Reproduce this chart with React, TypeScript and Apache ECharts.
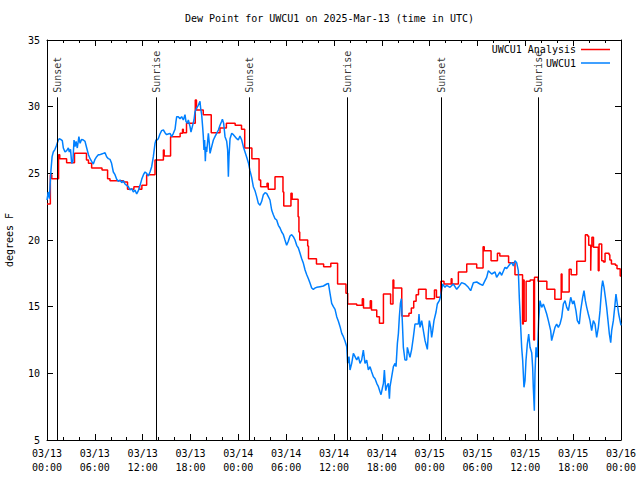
import React, { useEffect, useRef } from 'react';
import * as echarts from 'echarts';

const FONT = 'DejaVu Sans Mono';
const titleText = 'Dew Point for UWCU1 on 2025-Mar-13 (time in UTC)';
const dayLabels = ['03/13', '03/14', '03/15', '03/16'];
const hourLabels = ['00:00', '06:00', '12:00', '18:00'];
const seriesNames = ['UWCU1 Analysis', 'UWCU1'];
const seriesColors = ['#ff0000', '#0080ff'];
const yName = 'degrees F';

const eventNames = ['Sunset', 'Sunrise', 'Sunset', 'Sunrise', 'Sunset', 'Sunrise'];
const eventHours = [1.3, 13.67, 25.38, 37.67, 49.47, 61.63];
const eventLineTop = 30.7;
const eventLabelAt = 31.0;

// hours since 03/13 00:00 UTC
const analysisHours = [
  0.0, 0.42, 0.6, 1.45, 1.6, 2.46, 3.45, 4.95, 5.2, 5.6, 6.9, 7.6, 7.9, 9.6, 10.1, 10.9, 11.6, 11.9, 12.5,
  13.55, 14.6, 14.7, 15.5, 16.7, 17.0, 17.1, 17.5, 18.6, 18.75, 19.6, 20.6, 21.7, 22.5, 23.6, 24.4, 24.8,
  25.7, 26.6, 26.8, 27.6, 27.75, 28.6, 29.6, 29.7, 30.6, 30.75, 31.5, 31.6, 31.7, 32.7, 32.8, 33.8, 34.7,
  35.6, 36.45, 37.5, 37.72, 38.85, 39.55, 39.7, 40.55, 40.7, 41.36, 41.7, 42.2, 43.1, 43.4, 43.5, 44.5,
  45.4, 45.7, 46.0, 46.3, 46.6, 47.55, 48.6, 48.85, 49.4, 49.8, 50.7, 50.8, 51.6, 52.65, 53.9, 54.7, 54.85,
  55.7, 56.5, 56.8, 57.9, 58.7, 59.65, 59.75, 59.85, 60.1, 60.6, 61.05, 61.15, 61.6, 62.7, 63.7, 64.5,
  64.6, 65.5, 65.75, 66.45, 67.53, 67.8, 67.95, 68.2, 68.25, 68.35, 68.55, 69.15, 69.25, 69.58, 69.8,
  70.0, 70.5, 70.6, 70.8, 71.3, 71.5, 71.9, 72.0,
];
const analysisValues = [
  22.7, 24.9, 24.6, 26.4, 26.1, 25.8, 26.5, 26.0, 25.75, 25.4, 25.25, 24.6, 24.45, 24.35, 23.8, 24.0, 23.8, 24.1, 24.9,
  26.0, 26.75, 26.3, 27.75, 28.0, 28.3, 28.05, 28.75, 30.5, 29.75, 29.4, 28.05, 28.4, 28.75, 28.6, 28.3, 26.9,
  26.1, 24.5, 24.0, 24.25, 23.8, 24.75, 23.6, 22.55, 23.5, 23.05, 21.75, 20.6, 20.0, 19.55, 18.6, 18.2, 18.0,
  18.25, 16.7, 16.0, 15.2, 15.1, 15.6, 14.9, 15.45, 14.75, 14.25, 13.75, 15.95, 15.2, 17.0, 16.4, 14.3,
  14.5, 14.9, 15.4, 15.9, 16.3, 15.6, 16.25, 15.7, 16.9, 16.7, 17.1, 16.7, 17.6, 18.2, 17.9, 19.5, 19.2,
  18.45, 19.0, 18.8, 18.3, 17.4, 13.7, 17.0, 13.9, 16.9, 17.0, 12.5, 17.2, 16.9, 16.3, 15.55, 17.45,
  16.1, 17.8, 17.4, 18.4, 20.4, 20.3, 19.6, 17.7, 19.5, 20.2, 19.45, 17.7, 19.7, 18.45, 18.35,
  19.0, 18.9, 18.5, 18.2, 18.1, 17.85, 17.3, 17.3,
];

const obsHours = [
  0.0, 0.15, 0.3, 0.4, 0.5, 0.64, 0.79, 1.0, 1.2, 1.42, 1.55, 1.71, 1.92, 2.05, 2.26, 2.47, 2.68, 2.8, 2.95,
  3.1, 3.25, 3.39, 3.51, 3.65, 3.8, 4.0, 4.15, 4.35, 4.56, 4.77, 4.98, 5.2, 5.4, 5.6, 5.81, 6.02, 6.23, 6.44,
  6.65, 6.86, 7.07, 7.28, 7.48, 7.7, 7.9, 8.1, 8.32, 8.53, 8.74, 8.95, 9.16, 9.37, 9.57, 9.78, 9.99, 10.2,
  10.41, 10.62, 10.83, 11.04, 11.25, 11.46, 11.67, 11.88, 12.1, 12.3, 12.5, 12.7, 12.92, 13.13, 13.34, 13.55,
  13.67, 13.8, 13.96, 14.17, 14.38, 14.6, 14.8, 15.0, 15.2, 15.43, 15.64, 15.85, 16.06, 16.18, 16.27, 16.47,
  16.68, 16.89, 17.1, 17.31, 17.43, 17.6, 17.73, 17.94, 18.06, 18.23, 18.44, 18.56, 18.77, 18.98, 19.19,
  19.27, 19.4, 19.52, 19.61, 19.69, 19.77, 19.86, 19.94, 20.03, 20.24, 20.36, 20.45, 20.66, 20.87, 21.07,
  21.28, 21.5, 21.7, 21.91, 22.0, 22.16, 22.33, 22.54, 22.66, 22.75, 22.83, 22.96, 23.17, 23.38, 23.59, 23.8,
  24.0, 24.2, 24.42, 24.63, 24.84, 25.05, 25.26, 25.46, 25.67, 25.88, 26.09, 26.3, 26.51, 26.72, 26.93, 27.14,
  27.35, 27.55, 27.76, 27.97, 28.18, 28.39, 28.6, 28.81, 29.02, 29.23, 29.44, 29.65, 29.85, 30.06, 30.27,
  30.48, 30.69, 30.9, 31.11, 31.32, 31.53, 31.74, 31.95, 32.16, 32.37, 32.58, 32.79, 33.0, 33.2, 33.41, 33.62,
  33.83, 34.25, 34.67, 35.09, 35.3, 35.5, 35.71, 35.92, 36.13, 36.34, 36.55, 36.76, 36.97, 37.18, 37.39,
  37.6, 37.71, 37.88, 38.01, 38.22, 38.43, 38.64, 38.85, 39.06, 39.26, 39.47, 39.68, 39.89, 40.1, 40.31,
  40.52, 40.73, 40.94, 41.15, 41.36, 41.57, 41.78, 41.9, 42.07, 42.2, 42.32, 42.49, 42.61, 42.82, 42.95,
  43.03, 43.24, 43.45, 43.66, 43.78, 43.95, 44.08, 44.2, 44.33, 44.45, 44.58, 44.7, 44.9, 45.12, 45.2,
  45.53, 45.74, 45.95, 46.16, 46.58, 46.66, 46.79, 47.0, 47.21, 47.42, 47.71, 47.83, 47.96, 48.13, 48.25,
  48.38, 48.54, 48.8, 48.96, 49.21, 49.38, 49.63, 49.92, 50.13, 50.55, 50.97, 51.39, 51.6, 52.01, 52.43,
  52.85, 53.14, 53.48, 53.9, 54.31, 54.65, 54.94, 55.15, 55.36, 55.78, 56.2, 56.4, 56.82, 57.03, 57.45,
  57.66, 58.08, 58.29, 58.5, 58.7, 58.91, 59.12, 59.25, 59.42, 59.54, 59.67, 59.83, 59.96, 60.08, 60.25,
  60.42, 60.59, 60.8, 60.92, 61.0, 61.13, 61.21, 61.34, 61.5, 61.67, 61.84, 62.05, 62.26, 62.47, 62.68,
  62.89, 63.18, 63.3, 63.51, 63.72, 63.93, 64.14, 64.35, 64.56, 64.77, 64.98, 65.19, 65.4, 65.69, 65.94,
  66.1, 66.35, 66.52, 66.77, 66.94, 67.19, 67.36, 67.53, 67.7, 67.9, 68.11, 68.32, 68.53, 68.74, 68.95,
  69.16, 69.37, 69.49, 69.58, 69.7, 69.87, 70.04, 70.2, 70.37, 70.54, 70.71, 70.83, 71.04, 71.21, 71.37,
  71.54, 71.71, 71.88, 72.0,
];
const obsValues = [
  23.0, 23.6, 23.1, 24.25, 25.25, 26.25, 26.6, 26.8, 27.1, 27.5, 27.6, 27.55, 27.45, 26.9, 26.6, 26.7, 26.9, 26.6, 26.8,
  25.75, 25.9, 27.5, 27.0, 27.4, 26.9, 27.75, 27.25, 27.55, 27.5, 27.4, 26.9, 26.4, 26.1, 25.9, 25.7, 26.05, 26.25, 26.4,
  26.4, 26.45, 26.5, 26.55, 26.25, 26.1, 26.05, 25.75, 25.1, 24.9, 24.55, 24.4, 24.5, 24.3, 24.45, 24.2, 24.1, 24.0,
  23.75, 23.85, 23.6, 23.75, 23.45, 23.7, 24.1, 24.55, 24.9, 25.1, 25.0, 24.8, 25.1, 25.5, 26.25, 27.25,
  27.5, 27.5, 27.6, 27.95, 28.2, 28.25, 28.05, 27.9, 27.95, 28.0, 27.75, 28.0, 28.3, 28.9, 29.25, 29.25,
  29.1, 29.25, 29.0, 29.4, 28.9, 28.75, 29.0, 28.5, 28.1, 28.5, 29.0, 29.6, 29.9, 30.1, 30.4,
  29.9, 29.4, 28.5, 27.75, 26.75, 27.5, 25.9, 27.0, 26.6, 28.0, 27.25, 26.5, 27.0, 27.5, 27.75,
  28.0, 28.25, 28.6, 28.9, 29.05, 28.75, 27.75, 27.4, 26.75, 24.75, 26.25, 27.6, 28.0, 27.9, 27.75, 27.6,
  27.5, 27.8, 27.5, 27.0, 26.6, 26.2, 25.8, 25.2, 24.7, 24.0, 23.7, 23.25, 22.75, 22.6, 22.9, 23.4,
  23.55, 23.5, 23.25, 23.0, 22.25, 21.9, 21.6, 21.5, 21.1, 20.9, 20.6, 20.4, 20.0, 19.6, 19.9,
  20.3, 20.4, 20.25, 20.0, 19.6, 19.4, 19.0, 18.6, 18.25, 17.75, 17.4, 17.1, 16.75, 16.4, 16.3, 16.4,
  16.45, 16.5, 16.55, 16.7, 16.75, 16.0, 15.25, 15.0, 14.8, 14.25, 13.9, 13.5, 13.0, 12.75, 12.4,
  12.0, 10.75, 11.25, 10.25, 10.75, 11.5, 11.25, 11.0, 11.25, 10.75, 11.0, 11.75, 10.75, 11.0, 10.25,
  10.5, 10.1, 9.75, 9.6, 9.25, 9.0, 8.6, 8.4, 8.9, 9.25, 10.25, 8.7, 9.0, 9.25, 8.1,
  9.0, 9.75, 10.5, 10.75, 10.5, 12.25, 13.0, 14.25, 15.25, 15.6, 13.75, 11.95, 11.0, 11.0, 11.95,
  11.2, 11.8, 12.7, 13.7, 13.7, 14.45, 13.45, 13.95, 13.2, 12.45, 11.8, 12.95, 13.95, 13.45, 12.7,
  13.2, 13.95, 14.6, 15.2, 15.45, 15.8, 16.7, 16.45, 16.6, 16.45, 16.7, 16.3, 16.45, 16.8, 16.7,
  16.45, 16.2, 16.8, 16.85, 16.7, 16.6, 16.95, 17.2, 17.7, 17.45, 17.6, 17.2, 17.6, 17.35, 17.95,
  17.85, 18.2, 18.3, 18.05, 18.45, 18.3, 17.7, 15.6, 13.45, 11.95, 10.95, 8.95, 9.45, 10.95, 12.2,
  12.95, 11.95, 11.55, 10.45, 8.95, 7.2, 9.95, 11.95, 11.2, 13.95, 15.45, 14.95, 15.2, 14.85, 14.45,
  13.95, 13.2, 12.45, 12.95, 13.45, 13.7, 13.45, 13.7, 14.2, 15.2, 15.45, 14.95, 14.7, 15.7, 15.2,
  15.45, 14.7, 13.95, 13.7, 14.7, 15.7, 16.2, 15.45, 14.95, 14.45, 13.95, 13.2, 13.95, 13.7, 12.7,
  13.45, 14.7, 15.7, 16.45, 16.95, 16.45, 15.7, 14.95, 13.95, 12.95, 12.3, 13.2, 13.95, 14.95, 15.95,
  15.2, 14.45, 13.95, 13.6,
];

function xLabel(v: number): string {
  const day = Math.floor(v / 24);
  const hourIdx = Math.round((v % 24) / 6);
  return `${dayLabels[day]}\n${hourLabels[hourIdx]}`;
}

export default function App() {
  const ref = useRef<HTMLDivElement>(null);
  useEffect(() => {
    if (!ref.current) return;
    const chart = echarts.init(ref.current, null, { renderer: 'svg' });
    const black = '#000000';
    const axisCommon = {
      axisLine: { show: true, onZero: false, lineStyle: { color: black, width: 1 } },
      axisTick: { show: true, inside: true, length: 6, lineStyle: { color: black, width: 1 } },
      splitLine: { show: false },
    };
    const textStyle = { fontFamily: FONT, fontSize: 10, color: black };
    chart.setOption({
      animation: false,
      backgroundColor: '#ffffff',
      title: {
        text: titleText,
        left: 185,
        top: 13,
        padding: 0,
        textStyle: { ...textStyle, fontWeight: 'normal' },
      },
      legend: {
        data: seriesNames.map((n, i) => ({ name: n, icon: 'rect', itemStyle: { color: seriesColors[i] } })),
        orient: 'vertical',
        right: 30,
        top: 44.5,
        align: 'right',
        itemWidth: 29,
        itemHeight: 1.5,
        itemGap: 3.5,
        selectedMode: false,
        padding: 0,
        textStyle: { ...textStyle },
      },
      grid: { left: 47, right: 19, top: 40, bottom: 40, containLabel: false, outerBoundsMode: 'none' },
      xAxis: [
        {
          type: 'value', min: 0, max: 72, interval: 6, position: 'bottom',
          ...axisCommon,
          minorTick: { show: true, splitNumber: 3, length: 3, lineStyle: { color: black, width: 1 } },
          minorSplitLine: { show: false },
          axisLabel: { ...textStyle, formatter: xLabel, lineHeight: 14, margin: 6, showMinLabel: true, showMaxLabel: true },
        },
        {
          type: 'value', min: 0, max: 72, interval: 6, position: 'top',
          ...axisCommon,
          minorTick: { show: true, splitNumber: 3, length: 3, lineStyle: { color: black, width: 1 } },
          minorSplitLine: { show: false },
          axisLabel: { show: false },
        },
      ],
      yAxis: [
        {
          type: 'value', min: 5, max: 35, interval: 5, position: 'left',
          ...axisCommon,
          name: yName,
          nameLocation: 'middle',
          nameGap: 33,
          nameRotate: 90,
          nameTextStyle: textStyle,
          axisLabel: { ...textStyle, margin: 7 },
        },
        {
          type: 'value', min: 5, max: 35, interval: 5, position: 'right',
          ...axisCommon,
          axisLabel: { show: false },
        },
      ],
      series: [
        {
          name: seriesNames[0],
          type: 'line',
          step: 'end',
          data: analysisHours.map((h, i) => [h, analysisValues[i]]),
          symbol: 'none',
          showSymbol: false,
          lineStyle: { color: seriesColors[0], width: 1.5 },
          itemStyle: { color: seriesColors[0] },
          z: 2,
          silent: true,
        },
        {
          name: seriesNames[1],
          type: 'line',
          data: obsHours.map((h, i) => [h, obsValues[i]]),
          symbol: 'none',
          showSymbol: false,
          lineStyle: { color: seriesColors[1], width: 1.5 },
          itemStyle: { color: seriesColors[1] },
          z: 3,
          silent: true,
        },
        {
          name: 'events',
          type: 'scatter',
          data: eventHours.map((h, i) => ({ value: [h, eventLabelAt], name: eventNames[i] })),
          symbolSize: 1,
          itemStyle: { color: 'transparent' },
          silent: true,
          z: 5,
          label: {
            show: true,
            formatter: (p: any) => p.name,
            position: [1, 0],
            rotate: 90,
            align: 'left',
            verticalAlign: 'middle',
            ...textStyle,
          },
          markLine: {
            silent: true,
            symbol: ['none', 'none'],
            label: { show: false },
            emphasis: { disabled: true },
            lineStyle: { color: black, width: 1, type: 'solid' },
            data: eventHours.map((h) => [{ coord: [h, 5] }, { coord: [h, eventLineTop] }]),
          },
        },
      ],
    });
    return () => chart.dispose();
  }, []);
  return (
    <div
      ref={ref}
      style={{ position: 'fixed', left: 0, top: 0, width: 640, height: 480, background: '#fff' }}
    />
  );
}
